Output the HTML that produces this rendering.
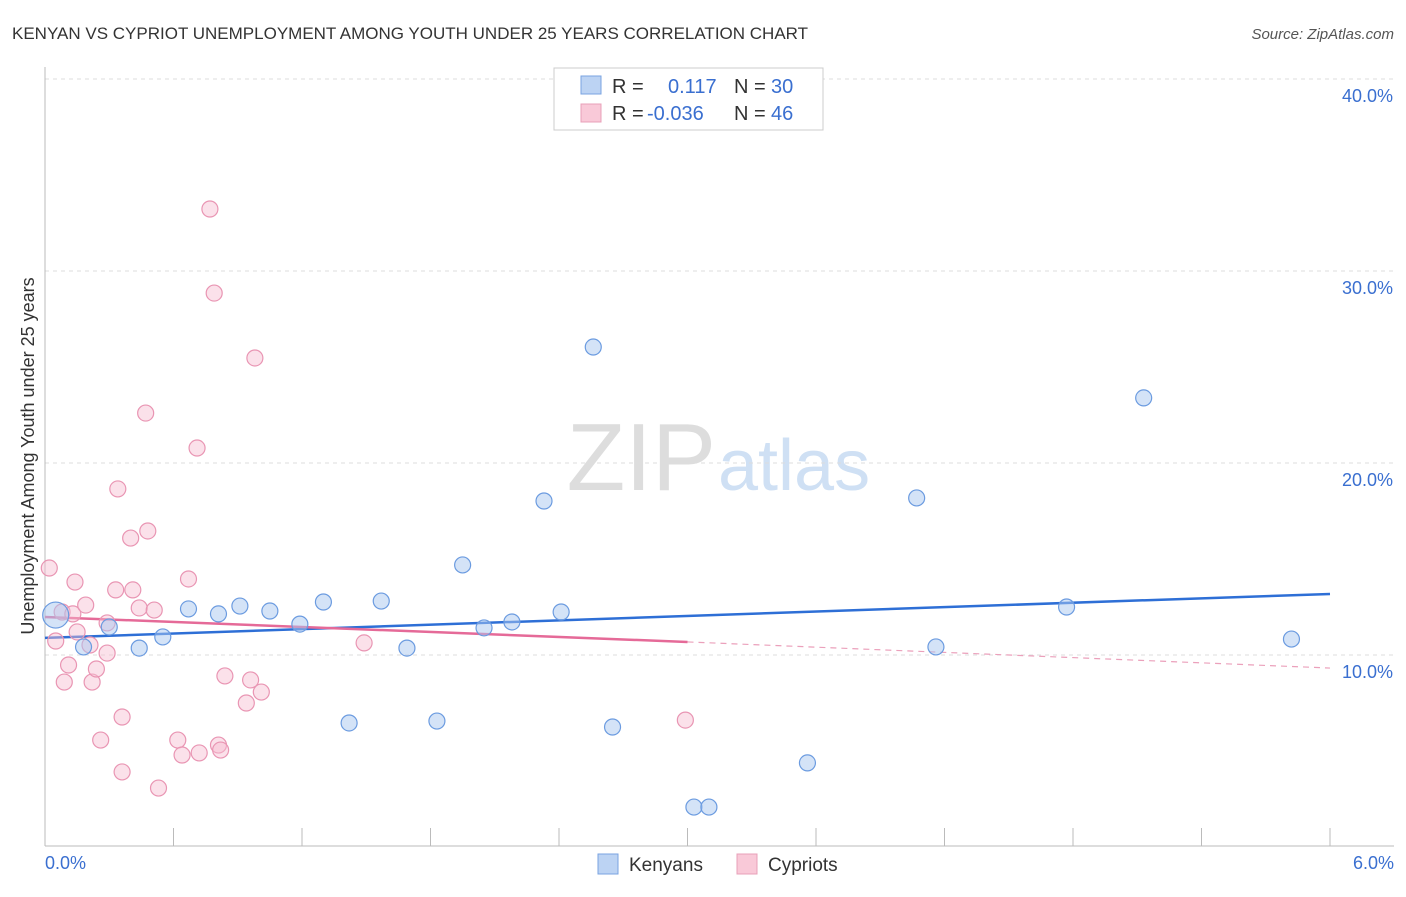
<!DOCTYPE html>
<html><head><meta charset="utf-8"><style>
body{margin:0;background:#fff;font-family:"Liberation Sans",sans-serif}
svg text{font-family:"Liberation Sans",sans-serif}
</style></head><body>
<svg id="chart" width="1406" height="892">
<text x="12" y="39" font-size="17" fill="#333">KENYAN VS CYPRIOT UNEMPLOYMENT AMONG YOUTH UNDER 25 YEARS CORRELATION CHART</text>
<text x="1394" y="39" font-size="15" fill="#555" font-style="italic" text-anchor="end">Source: ZipAtlas.com</text>
<text x="716" y="490" font-size="96" fill="#ddd" font-family="Liberation Serif" text-anchor="end">ZIP</text>
<text x="718" y="490" font-size="72" fill="#cfe0f4">atlas</text>
<g id="grid"></g><g id="axes"></g><g id="lines"></g><g id="pts"></g>
<text transform="translate(34,456) rotate(-90)" font-size="18" fill="#333" text-anchor="middle">Unemployment Among Youth under 25 years</text>
<text x="45" y="869" font-size="18" fill="#3a6fd0">0.0%</text>
<text x="1394" y="869" font-size="18" fill="#3a6fd0" text-anchor="end">6.0%</text>
<g>
<rect x="554" y="68" width="269" height="62" fill="#fff" stroke="#ccc"/>
<rect x="581" y="76" width="20" height="18" fill="#bcd3f3" stroke="#7aa3e0"/>
<rect x="581" y="104" width="20" height="18" fill="#f9c9d8" stroke="#e8a0b8"/>
<text x="612" y="93" font-size="20" fill="#333">R = </text><text x="668" y="93" font-size="20" fill="#3a6fd0">0.117</text>
<text x="734" y="93" font-size="20" fill="#333">N = </text><text x="771" y="93" font-size="20" fill="#3a6fd0">30</text>
<text x="612" y="120" font-size="20" fill="#333">R = </text><text x="647" y="120" font-size="20" fill="#3a6fd0">-0.036</text>
<text x="734" y="120" font-size="20" fill="#333">N = </text><text x="771" y="120" font-size="20" fill="#3a6fd0">46</text>
</g>
<g>
<rect x="598" y="854" width="20" height="20" fill="#bcd3f3" stroke="#7aa3e0"/>
<text x="629" y="871" font-size="19" fill="#333">Kenyans</text>
<rect x="737" y="854" width="20" height="20" fill="#f9c9d8" stroke="#e8a0b8"/>
<text x="768" y="871" font-size="19" fill="#333">Cypriots</text>
</g>
</svg>
<script>
const yTicks=[10,20,30,40];
const xTicks=[0,0.6,1.2,1.8,2.4,3.0,3.6,4.2,4.8,5.4,6.0];
const kenX=[0.05,0.18,0.30,0.44,0.55,0.67,0.81,0.91,1.05,1.19,1.30,1.42,1.57,1.69,1.83,1.95,2.05,2.18,2.33,2.41,2.56,2.65,3.03,3.10,3.56,4.07,4.16,4.77,5.13,5.82];
const kenY=[12.08,10.42,11.46,10.36,10.94,12.40,12.14,12.55,12.29,11.61,12.76,6.46,12.81,10.36,6.56,14.69,11.41,11.72,18.02,12.24,26.04,6.25,2.08,2.08,4.38,18.18,10.42,12.50,23.39,10.83];
const cypX=[0.02,0.05,0.08,0.09,0.11,0.13,0.14,0.15,0.19,0.21,0.22,0.24,0.26,0.29,0.29,0.33,0.34,0.36,0.36,0.40,0.41,0.44,0.47,0.48,0.51,0.53,0.62,0.64,0.67,0.71,0.72,0.77,0.79,0.81,0.82,0.84,0.94,0.96,0.98,1.01,1.49,2.99];
const cypY=[14.53,10.73,12.24,8.59,9.48,12.14,13.80,11.20,12.60,10.52,8.59,9.27,5.57,11.67,10.10,13.39,18.65,6.77,3.91,16.09,13.39,12.45,22.60,16.46,12.34,3.07,5.57,4.79,13.96,20.78,4.90,33.23,28.85,5.31,5.05,8.91,7.50,8.70,25.47,8.07,10.63,6.61];
const kenTrend=[10.89,13.18];
const cypTrend=[11.98,10.68,9.32];
const X=v=>45+v/6*1285, Y=v=>847-v*19.2;
const NS='http://www.w3.org/2000/svg';
function mk(p,t,a){const e=document.createElementNS(NS,t);for(const k in a)e.setAttribute(k,a[k]);document.getElementById(p).appendChild(e);return e;}
yTicks.forEach(t=>{
 const l=mk('grid','line',{x1:45,x2:1394,y1:Y(t),y2:Y(t),stroke:'#ddd','stroke-dasharray':'4,4'});
 
 
 const s=mk('grid','text',{x:1393,y:Y(t)+23,'font-size':18,fill:'#3a6fd0','text-anchor':'end'});s.textContent=t.toFixed(1)+'%';
 
 
});
const topGrid=mk('grid','line',{x1:45,x2:1394,y1:79,y2:79,stroke:'#ddd','stroke-dasharray':'4,4'});
mk('axes','line',{x1:45,x2:45,y1:67,y2:846,stroke:'#bbb'});
mk('axes','line',{x1:45,x2:1394,y1:846,y2:846,stroke:'#bbb'});
xTicks.forEach(t=>{const l=mk('axes','line',{x1:X(t),x2:X(t),y1:828,y2:846,stroke:'#bbb'});
 
 });
const kl=mk('lines','line',{x1:X(0),x2:X(6),y1:Y(kenTrend[0]),y2:Y(kenTrend[1]),stroke:'#2e6fd6','stroke-width':2.5});


const cl=mk('lines','line',{x1:X(0),x2:X(3),y1:Y(cypTrend[0]),y2:Y(cypTrend[1]),stroke:'#e56a98','stroke-width':2.5});


const cd=mk('lines','line',{x1:X(3),x2:X(6),y1:Y(cypTrend[1]),y2:Y(cypTrend[2]),stroke:'#eba0bb','stroke-width':1.2,'stroke-dasharray':'6,5'});


cypX.forEach((x,i)=>{const c=mk('pts','circle',{cx:X(x),cy:Y(cypY[i]),r:8,fill:'rgba(247,188,208,0.45)',stroke:'#e995b3','stroke-width':1.2});
 
 });
kenX.forEach((x,i)=>{const c=mk('pts','circle',{cx:X(x),cy:Y(kenY[i]),r:i==0?13:8,fill:'rgba(169,200,240,0.5)',stroke:'#6b9be0','stroke-width':1.2});
 
 });
</script>
</body></html>
